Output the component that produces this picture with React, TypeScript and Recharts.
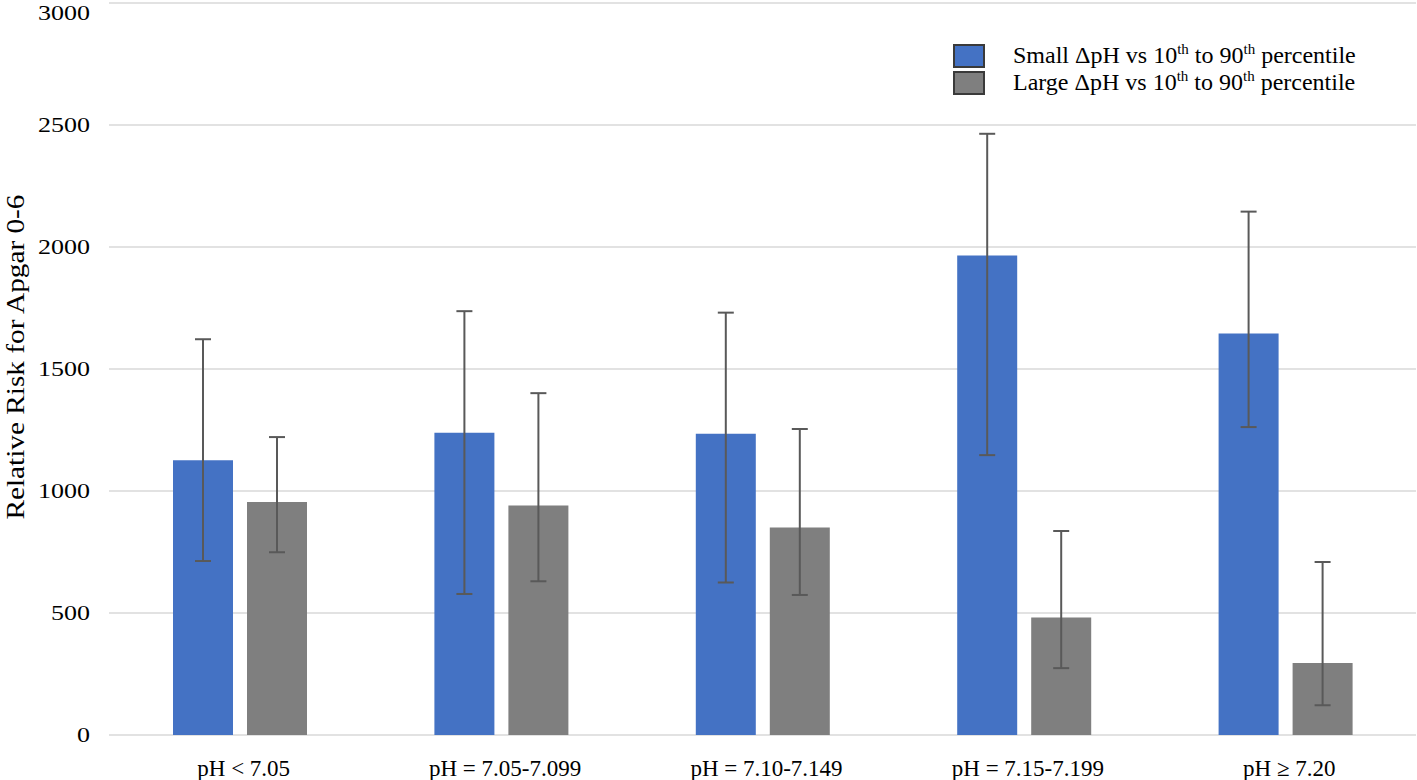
import React from "react";
import { BarChart, Bar, XAxis, YAxis, CartesianGrid, ErrorBar } from "recharts";

const categories = ["pH < 7.05", "pH = 7.05-7.099", "pH = 7.10-7.149", "pH = 7.15-7.199", "pH \u2265 7.20"];
const smallValues = [1126, 1239, 1235, 1965, 1645];
const smallLow = [713, 578, 625, 1147, 1262];
const smallHigh = [1622, 1737, 1731, 2464, 2145];
const largeValues = [955, 941, 850, 482, 295];
const largeLow = [749, 630, 574, 274, 122];
const largeHigh = [1221, 1401, 1254, 836, 709];
const yTicks = [0, 500, 1000, 1500, 2000, 2500, 3000];

const data = categories.map((c, i) => ({
  category: c,
  small: smallValues[i],
  smallErr: [smallValues[i] - smallLow[i], smallHigh[i] - smallValues[i]],
  large: largeValues[i],
  largeErr: [largeValues[i] - largeLow[i], largeHigh[i] - largeValues[i]],
}));

const FONT = "'Liberation Serif', 'Times New Roman', serif";

const YTick = (props: any) => {
  const { x, y, payload } = props;
  const s = String(payload.value);
  const yy = Math.max(y, 13);
  return (
    <text
      x={x - 11}
      y={yy}
      dy={7}
      textAnchor="end"
      fontFamily={FONT}
      fontSize={21}
      fill="#000"
      textLength={13 * s.length}
      lengthAdjust="spacingAndGlyphs"
    >
      {s}
    </text>
  );
};

const XTick = (props: any) => {
  const { x, y, payload } = props;
  return (
    <text x={x + 4} y={y + 33} textAnchor="middle" fontFamily={FONT} fontSize={23} fill="#000">
      {payload.value}
    </text>
  );
};

const YTitle = () => (
  <text
    x={24}
    y={357}
    transform="rotate(-90, 24, 357)"
    textAnchor="middle"
    fontFamily={FONT}
    fontSize={26}
    fill="#000"
    textLength={325}
    lengthAdjust="spacingAndGlyphs"
  >
    Relative Risk for Apgar 0-6
  </text>
);

const legendItems = [
  { color: "#4472C4", prefix: "Small" },
  { color: "#7F7F7F", prefix: "Large" },
];

const supStyle: React.CSSProperties = { fontSize: 15, color: "#000", verticalAlign: "super", lineHeight: 0 };

export default function App() {
  return (
    <div style={{ position: "absolute", left: 0, top: 0, width: 1417, height: 780, background: "#fff" }}>
      <BarChart
        width={1417}
        height={780}
        data={data}
        margin={{ top: 3, right: 1, left: 0, bottom: 0 }}
        barSize={60}
        barGap={14}
      >
        <CartesianGrid vertical={false} stroke="#d9d9d9" strokeWidth={1.5} />
        <XAxis
          dataKey="category"
          height={45}
          axisLine={false}
          tickLine={false}
          tick={<XTick />}
          interval={0}
        />
        <YAxis
          width={109}
          domain={[0, 3000]}
          ticks={yTicks}
          axisLine={false}
          tickLine={false}
          tick={<YTick />}
          label={<YTitle />}
          interval={0}
        />
        <Bar dataKey="small" fill="#4472C4" isAnimationActive={false}>
          <ErrorBar dataKey="smallErr" width={8} stroke="#595959" strokeWidth={2} direction="y" />
        </Bar>
        <Bar dataKey="large" fill="#7F7F7F" isAnimationActive={false}>
          <ErrorBar dataKey="largeErr" width={8} stroke="#595959" strokeWidth={2} direction="y" />
        </Bar>
      </BarChart>
      <div
        style={{
          position: "absolute",
          top: 42,
          left: 953,
          fontFamily: FONT,
          fontSize: 24,
          color: "#000",
        }}
      >
        {legendItems.map((it) => (
          <div key={it.prefix} style={{ display: "flex", alignItems: "center", height: 27, whiteSpace: "nowrap" }}>
            <div
              style={{
                width: 28,
                height: 20,
                background: it.color,
                border: "2px solid #3a3a3a",
                marginRight: 28,
                flexShrink: 0,
              }}
            />
            <span>
              {it.prefix} {"\u0394"}pH vs 10<span style={supStyle}>th</span> to 90<span style={supStyle}>th</span> percentile
            </span>
          </div>
        ))}
      </div>
    </div>
  );
}
